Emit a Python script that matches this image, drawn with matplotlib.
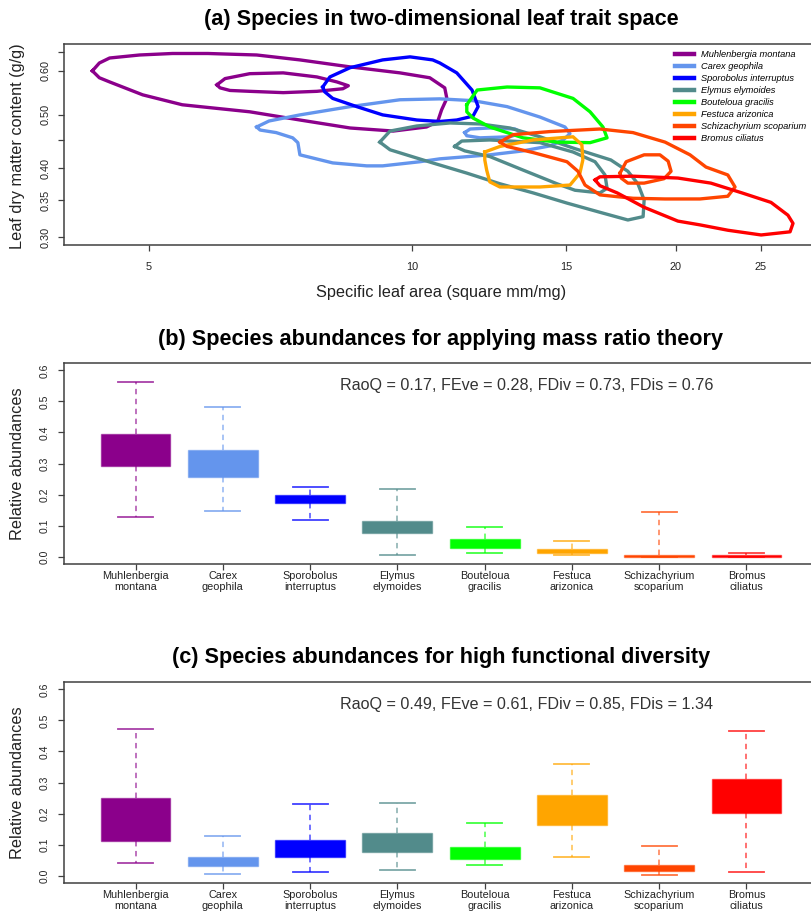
import matplotlib
matplotlib.use("Agg")
import matplotlib.pyplot as plt
from matplotlib.colors import to_rgba

plt.rcParams["font.family"] = ["Liberation Sans", "DejaVu Sans"]

# species and colours
species = [
    "Muhlenbergia montana", "Carex geophila", "Sporobolus interruptus",
    "Elymus elymoides", "Bouteloua gracilis", "Festuca arizonica",
    "Schizachyrium scoparium", "Bromus ciliatus",
]
colors = ["#8B008B", "#6495ED", "#0000FF", "#528B8B",
          "#00FF00", "#FFA500", "#FF4500", "#FF0000"]

# panel (a): density contours, (SLA, LDMC) vertices
muhl_outer = [(4.31, 0.600), (4.39, 0.620), (4.51, 0.633), (4.88, 0.641), (5.32, 0.645),
              (5.84, 0.645), (6.64, 0.641), (7.44, 0.628), (8.49, 0.610), (9.68, 0.595),
              (10.47, 0.583), (10.89, 0.559), (10.95, 0.535), (10.80, 0.510), (10.69, 0.486),
              (10.38, 0.475), (9.51, 0.467), (8.49, 0.473), (7.44, 0.489), (6.52, 0.506),
              (5.72, 0.517), (5.46, 0.521), (4.92, 0.543), (4.51, 0.573), (4.39, 0.583)]
muhl_inner = [(5.98, 0.566), (6.11, 0.581), (6.52, 0.593), (7.12, 0.595), (7.78, 0.585),
              (8.20, 0.573), (8.45, 0.564), (8.33, 0.557), (7.78, 0.551), (7.12, 0.548),
              (6.52, 0.551), (6.19, 0.553), (6.03, 0.559)]
carex_outer = [(6.64, 0.475), (6.86, 0.487), (7.44, 0.4995), (8.49, 0.517), (9.68, 0.532),
               (10.75, 0.534), (11.73, 0.530), (12.83, 0.517), (13.99, 0.495), (14.94, 0.475),
               (15.14, 0.462), (14.87, 0.450), (14.36, 0.439), (13.38, 0.430), (12.26, 0.423),
               (10.75, 0.416), (10.20, 0.411), (9.25, 0.404), (8.87, 0.404), (8.11, 0.409),
               (7.44, 0.423), (7.40, 0.445), (7.30, 0.454), (6.99, 0.464), (6.70, 0.469)]
carex_inner = [(11.48, 0.464), (11.64, 0.471), (12.26, 0.473), (13.10, 0.471), (13.34, 0.464),
               (12.93, 0.456), (11.95, 0.454), (11.54, 0.458)]
sporo = [(7.90, 0.561), (8.05, 0.585), (8.49, 0.608), (9.25, 0.628), (9.94, 0.636),
         (10.55, 0.628), (10.75, 0.620), (11.24, 0.595), (11.70, 0.554), (11.89, 0.517),
         (11.73, 0.497), (11.24, 0.489), (10.75, 0.486), (10.12, 0.489), (9.25, 0.4995),
         (8.64, 0.517), (8.11, 0.535), (7.94, 0.550)]
elymus_outer = [(9.18, 0.446), (9.43, 0.467), (10.12, 0.477), (11.04, 0.483), (11.95, 0.481),
                (12.93, 0.473), (13.99, 0.456), (15.34, 0.434), (16.86, 0.414), (17.63, 0.395),
                (18.10, 0.375), (18.40, 0.3506), (18.35, 0.327), (17.63, 0.3225), (16.38, 0.333),
                (15.02, 0.346), (13.74, 0.361), (12.59, 0.375), (11.54, 0.392), (10.55, 0.409),
                (9.94, 0.421), (9.43, 0.432)]
elymus_inner = [(11.18, 0.438), (11.39, 0.448), (12.26, 0.450), (13.99, 0.445), (15.26, 0.428),
                (16.17, 0.411), (16.60, 0.389), (16.69, 0.368), (16.38, 0.361), (15.34, 0.365),
                (14.63, 0.375), (13.38, 0.397), (12.26, 0.420), (11.48, 0.430)]
boutel = [(11.54, 0.521), (11.86, 0.554), (12.83, 0.561), (13.99, 0.559), (15.26, 0.535),
          (15.96, 0.506), (16.51, 0.475), (16.69, 0.454), (15.96, 0.445), (14.63, 0.446),
          (13.38, 0.454), (12.26, 0.475), (11.73, 0.493), (11.54, 0.506)]
festuca = [(12.10, 0.428), (12.59, 0.438), (13.74, 0.450), (15.26, 0.456), (15.62, 0.441),
           (15.66, 0.414), (15.54, 0.392), (15.14, 0.373), (13.99, 0.370), (12.59, 0.370),
           (12.26, 0.378), (12.16, 0.397), (12.10, 0.414)]
schiz_outer = [(12.59, 0.446), (13.03, 0.460), (14.36, 0.466), (16.38, 0.471), (17.87, 0.464),
               (19.44, 0.446), (20.76, 0.423), (21.65, 0.402), (22.93, 0.389), (23.37, 0.370),
               (22.93, 0.356), (21.31, 0.352), (19.44, 0.352), (17.87, 0.353), (16.38, 0.358),
               (15.75, 0.373), (15.46, 0.395), (15.02, 0.411), (13.74, 0.427), (12.83, 0.438)]
schiz_inner = [(17.27, 0.392), (17.55, 0.411), (18.40, 0.423), (19.18, 0.423), (19.60, 0.412),
               (19.75, 0.395), (19.39, 0.383), (18.40, 0.376), (17.63, 0.376), (17.32, 0.384)]
bromus = [(16.17, 0.381), (16.38, 0.386), (17.87, 0.387), (20.11, 0.384), (21.93, 0.376),
          (23.80, 0.361), (25.69, 0.347), (26.86, 0.329), (27.22, 0.318), (27.01, 0.307),
          (25.03, 0.303), (22.94, 0.309), (21.31, 0.316), (20.11, 0.321), (18.40, 0.340),
          (17.14, 0.361), (16.38, 0.372)]
contours = [[muhl_outer, muhl_inner], [carex_outer, carex_inner], [sporo],
            [elymus_outer, elymus_inner], [boutel], [festuca],
            [schiz_outer, schiz_inner], [bromus]]

sla_ticks = [5, 10, 15, 20, 25]
ldmc_ticks = [0.30, 0.35, 0.40, 0.45, 0.50, 0.60, 0.65]
ldmc_labels = ["0.30", "0.35", "0.40", "", "0.50", "0.60", ""]

# panels (b) and (c): box plot summaries
tick_names = ["Muhlenbergia\nmontana", "Carex\ngeophila", "Sporobolus\ninterruptus",
              "Elymus\nelymoides", "Bouteloua\ngracilis", "Festuca\narizonica",
              "Schizachyrium\nscoparium", "Bromus\nciliatus"]
b_whislo = [0.126, 0.147, 0.117, 0.006, 0.011, 0.006, 0.0, 0.0]
b_q1 = [0.292, 0.257, 0.173, 0.076, 0.026, 0.013, 0.0, 0.0]
b_q3 = [0.396, 0.343, 0.199, 0.116, 0.055, 0.025, 0.005, 0.005]
b_whishi = [0.562, 0.482, 0.224, 0.217, 0.094, 0.050, 0.143, 0.012]
c_whislo = [0.041, 0.004, 0.011, 0.018, 0.034, 0.060, 0.003, 0.011]
c_q1 = [0.112, 0.030, 0.060, 0.077, 0.052, 0.162, 0.016, 0.202]
c_q3 = [0.251, 0.061, 0.115, 0.138, 0.092, 0.261, 0.034, 0.310]
c_whishi = [0.473, 0.129, 0.230, 0.233, 0.171, 0.360, 0.094, 0.467]
b_note = "RaoQ = 0.17, FEve = 0.28, FDiv = 0.73, FDis = 0.76"
c_note = "RaoQ = 0.49, FEve = 0.61, FDiv = 0.85, FDis = 1.34"

W, H = 811, 911
TITLE_SIZE = 15.6
LABEL_SIZE = 11.7
fig = plt.figure(figsize=(W / 100, H / 100), dpi=100)


def axes_px(left, top, right, bottom):
    return fig.add_axes([left / W, 1 - bottom / H, (right - left) / W, (bottom - top) / H])


def style_axes(ax):
    for sp in ax.spines.values():
        sp.set_color("#404040")
        sp.set_linewidth(1.1)
    ax.tick_params(colors="#404040", labelcolor="#222222", length=4.3, width=0.9)


# ---- panel (a)
ax = axes_px(64, 44, 818, 245)
for cs, col in zip(contours, colors):
    for poly in cs:
        xs = [p[0] for p in poly] + [poly[0][0]]
        ys = [p[1] for p in poly] + [poly[0][1]]
        ax.plot(xs, ys, color=col, lw=2.4, solid_joinstyle="round")
ax.set_xscale("log")
ax.set_yscale("log")
ax.set_xlim(4.0, 29.07)
ax.set_ylim(0.2906, 0.671)
ax.set_xticks(sla_ticks)
ax.set_xticklabels([str(t) for t in sla_ticks])
ax.set_yticks(ldmc_ticks)
ax.set_yticklabels(ldmc_labels, rotation=90, va="center")
ax.minorticks_off()
style_axes(ax)
ax.tick_params(axis="x", labelsize=7.8, pad=8)
ax.tick_params(axis="y", labelsize=7.8, pad=5)
handles = [plt.Line2D([], [], color=c, lw=3.2) for c in colors]
ax.legend(handles, species, loc="upper left", bbox_to_anchor=(675 / W, 1 - 50 / H),
          bbox_transform=fig.transFigure, frameon=False, borderpad=0, borderaxespad=0,
          handlelength=2.0, handletextpad=0.8, labelspacing=0.32,
          prop={"style": "italic", "size": 6.7})
fig.text(441 / W, 1 - 20 / H, "(a) Species in two-dimensional leaf trait space",
         ha="center", va="center", fontsize=TITLE_SIZE, fontweight="bold")
fig.text(18 / W, 1 - 146 / H, "Leaf dry matter content (g/g)", rotation=90,
         ha="center", va="center", fontsize=LABEL_SIZE, color="#222222")
fig.text(441 / W, 1 - 292 / H, "Specific leaf area (square mm/mg)",
         ha="center", va="center", fontsize=LABEL_SIZE, color="#222222")


# ---- panels (b) and (c)
def box_panel(top, bottom, whislo, q1, q3, whishi, note, title):
    ax = axes_px(64, top, 818, bottom)
    stats = []
    for i in range(len(tick_names)):
        stats.append({"whislo": whislo[i], "q1": q1[i], "med": q1[i],
                      "q3": q3[i], "whishi": whishi[i]})
    pos = list(range(1, len(tick_names) + 1))
    art = ax.bxp(stats, positions=pos, widths=0.8, capwidths=0.4, patch_artist=True,
                 showfliers=False, medianprops={"linewidth": 0})
    for i, col in enumerate(colors):
        art["boxes"][i].set_facecolor(col)
        art["boxes"][i].set_edgecolor(to_rgba(col, 0.55))
        art["boxes"][i].set_linewidth(1.0)
        for w in art["whiskers"][2 * i:2 * i + 2]:
            w.set_color(to_rgba(col, 0.6))
            w.set_linestyle((0, (3, 2.5)))
            w.set_linewidth(1.3)
        for c in art["caps"][2 * i:2 * i + 2]:
            c.set_color(to_rgba(col, 0.75))
            c.set_linewidth(1.3)
    ax.set_xlim(0.18, 8.82)
    ax.set_ylim(-0.024, 0.624)
    ax.set_xticks(pos)
    ax.set_xticklabels(tick_names, fontsize=7.8)
    ax.set_yticks([0.0, 0.1, 0.2, 0.3, 0.4, 0.5, 0.6])
    ax.set_yticklabels(["0.0", "0.1", "0.2", "0.3", "0.4", "0.5", "0.6"],
                       rotation=90, va="center")
    style_axes(ax)
    ax.tick_params(axis="x", pad=0.5)
    ax.tick_params(axis="y", labelsize=7.5, pad=6)
    ax.text(5.48, 0.552, note, ha="center", va="center", fontsize=11.6, color="#333333")
    fig.text(441 / W, 1 - (top - 24) / H, title, ha="center", va="center",
             fontsize=TITLE_SIZE, fontweight="bold")
    fig.text(18 / W, 1 - (top + bottom) / 2 / H, "Relative abundances", rotation=90,
             ha="center", va="center", fontsize=LABEL_SIZE, color="#222222")
    return ax


box_panel(363, 564, b_whislo, b_q1, b_q3, b_whishi, b_note,
          "(b) Species abundances for applying mass ratio theory")
box_panel(682, 883, c_whislo, c_q1, c_q3, c_whishi, c_note,
          "(c) Species abundances for high functional diversity")

fig.savefig("out.png", dpi=100)
